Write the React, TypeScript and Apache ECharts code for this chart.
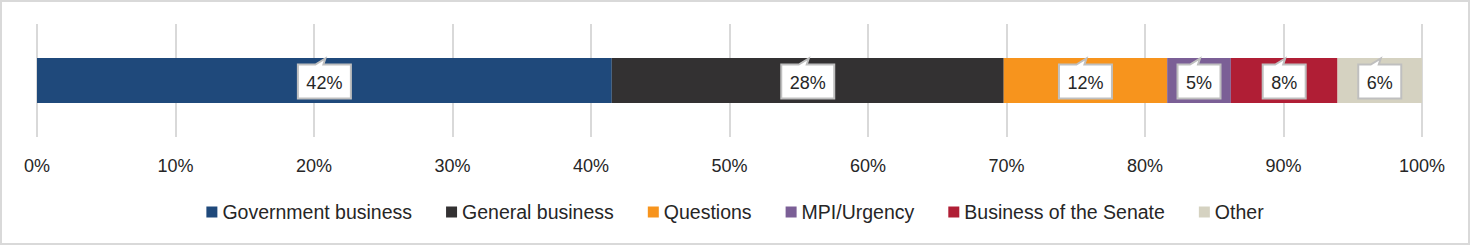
import React, { useEffect, useRef } from "react";
import * as echarts from "echarts";

const categories = ["Time"];
const seriesNames = [
  "Government business",
  "General business",
  "Questions",
  "MPI/Urgency",
  "Business of the Senate",
  "Other",
];
const seriesValues = [41.5, 28.3, 11.8, 4.6, 7.7, 6.1];
const seriesLabels = ["42%", "28%", "12%", "5%", "8%", "6%"];
const seriesColors = ["#1F497B", "#333132", "#F7941D", "#7B5F96", "#B01E35", "#D5D2C1"];
const tickValues = [0, 10, 20, 30, 40, 50, 60, 70, 80, 90, 100];

const FONT = "'Liberation Sans', Arial, sans-serif";
const TEXT = "#262626";

let measureCtx: CanvasRenderingContext2D | null = null;
function measure(text: string, size: number): number {
  if (!measureCtx) measureCtx = document.createElement("canvas").getContext("2d");
  if (!measureCtx) return text.length * size * 0.5;
  measureCtx.font = `${size}px ${FONT}`;
  return measureCtx.measureText(text).width;
}

export default function App() {
  const ref = useRef<HTMLDivElement>(null);
  useEffect(() => {
    document.body.style.margin = "0";
    if (!ref.current) return;
    const chart = echarts.init(ref.current, undefined, { renderer: "svg" });

    const calloutData: number[][] = [];
    let acc = 0;
    seriesValues.forEach((v, i) => {
      calloutData.push([acc, acc + v, i]);
      acc += v;
    });

    const barSeries = seriesNames.map((name, i) => ({
      name,
      type: "bar",
      stack: "total",
      barWidth: 45,
      itemStyle: { color: seriesColors[i] },
      data: [seriesValues[i]],
      z: 2,
    }));

    const calloutSeries = {
      type: "custom",
      name: "labels",
      z: 5,
      silent: true,
      data: calloutData,
      encode: { x: [0, 1] },
      renderItem: (params: any, api: any) => {
        const s = api.value(0);
        const e = api.value(1);
        const idx = api.value(2);
        const text = seriesLabels[idx];
        const p = api.coord([(s + e) / 2, categories[0]]);
        const cx = p[0];
        const cy = p[1];
        const w = Math.round(measure(text, 18) + 17);
        const h = 34;
        const L = cx - w / 2;
        const R = cx + w / 2;
        const T = cy - h / 2 + 1;
        const B = cy + h / 2 + 1;
        return {
          type: "group",
          children: [
            {
              type: "polygon",
              shape: {
                points: [
                  [L, T],
                  [cx - 9, T],
                  [cx + 1, T - 6],
                  [cx - 1, T],
                  [R, T],
                  [R, B],
                  [L, B],
                ],
              },
              style: { fill: "#ffffff", stroke: "#BFBFBF", lineWidth: 2 },
            },
            {
              type: "text",
              x: cx,
              y: cy + 2,
              style: {
                text,
                fill: TEXT,
                font: `18px ${FONT}`,
                align: "center",
                verticalAlign: "middle",
              },
            },
          ],
        };
      },
    };

    chart.setOption({
      animation: false,
      grid: { left: 35, right: 46, top: 22, bottom: 106, containLabel: false },
      xAxis: {
        type: "value",
        min: tickValues[0],
        max: tickValues[tickValues.length - 1],
        interval: 10,
        axisLine: { show: false },
        axisTick: { show: false },
        splitLine: { show: true, lineStyle: { color: "#D9D9D9", width: 2 } },
        axisLabel: {
          formatter: (v: number) => `${v}%`,
          color: TEXT,
          fontFamily: FONT,
          fontSize: 18,
          margin: 20,
        },
      },
      yAxis: {
        type: "category",
        data: categories,
        show: false,
      },
      legend: {
        data: seriesNames,
        top: 195,
        left: "center",
        itemWidth: 11,
        itemHeight: 11,
        itemGap: 34,
        icon: "rect",
        textStyle: { color: TEXT, fontFamily: FONT, fontSize: 19.5 },
      },
      series: [...barSeries, calloutSeries],
    });
    return () => chart.dispose();
  }, []);

  return (
    <div
      ref={ref}
      style={{
        width: 1470,
        height: 245,
        border: "2px solid #D9D9D9",
        boxSizing: "border-box",
      }}
    />
  );
}
